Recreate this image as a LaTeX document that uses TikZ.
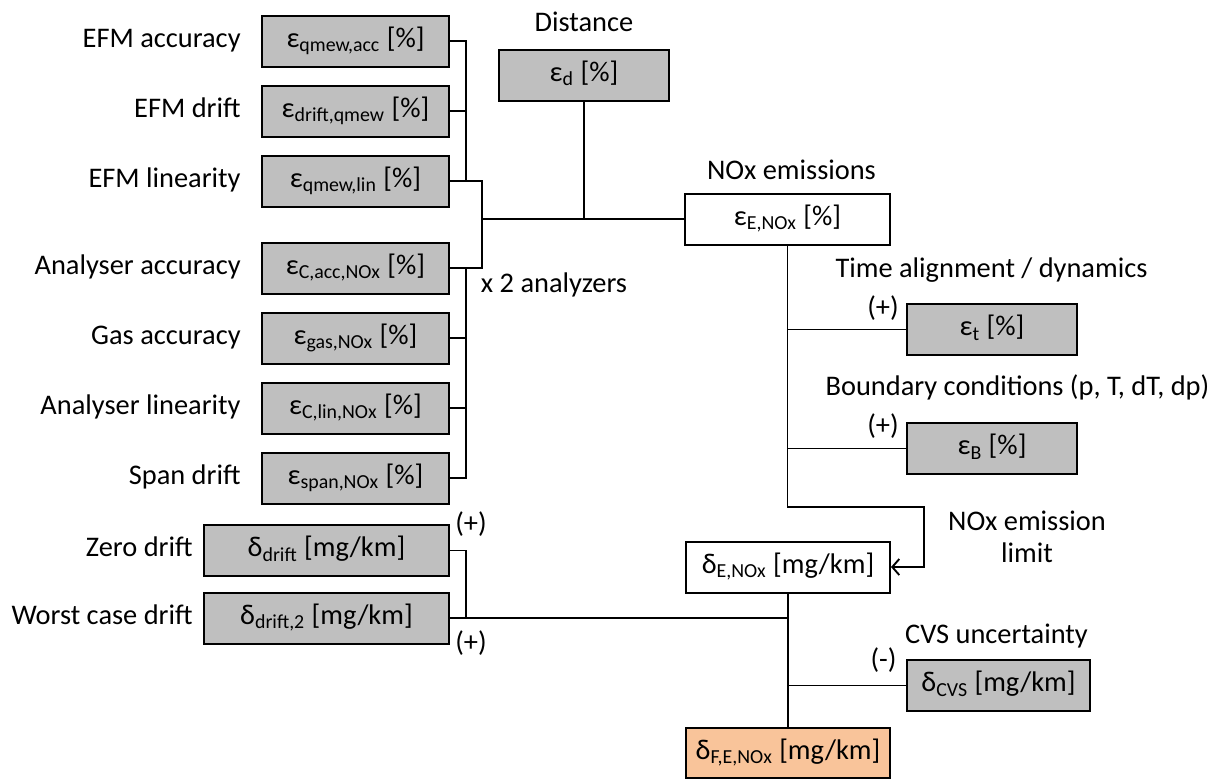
\documentclass[tikz,border=0pt]{standalone}
\usepackage{fontspec}
\setmainfont{Carlito}
\usetikzlibrary{positioning, arrows.meta}
\definecolor{boxgray}{HTML}{BFBFBF}
\definecolor{outorange}{HTML}{F9C49A}

\begin{document}
\begin{tikzpicture}[x=0.5pt, y=-0.5pt, node distance=8.5pt and 10pt,
    every node/.style={font=\fontsize{14.2}{17}\selectfont},
    gbox/.style={rectangle, draw, line width=1pt, fill=boxgray, minimum height=25.5pt, inner sep=0pt, text height=0.72em, text depth=0.08em},
    wbox/.style={gbox, fill=white},
    obox/.style={gbox, fill=outorange},
    epsbox/.style={gbox, minimum width=93.5pt},
    lbl/.style={inner sep=0pt, text height=0.72em, text depth=0.08em},
    line/.style={line width=0.95pt},
    arrow/.style={-{Straight Barb[length=3.5pt, width=8pt]}, line width=0.95pt}]

  \useasboundingbox (0,0) rectangle (1220,778);

  % flow meter and analyser terms
  \node[epsbox] (qacc) at (355.5,41) {ε\textsubscript{qmew,acc} [\%]};
  \node[epsbox, below=of qacc] (qdrift) {ε\textsubscript{drift,qmew} [\%]};
  \node[epsbox, below=of qdrift] (qlin) {ε\textsubscript{qmew,lin} [\%]};
  \node[epsbox, below=17pt of qlin] (cacc) {ε\textsubscript{C,acc,NOx} [\%]};
  \node[epsbox, below=of cacc] (gas) {ε\textsubscript{gas,NOx} [\%]};
  \node[epsbox, below=of gas] (clin) {ε\textsubscript{C,lin,NOx} [\%]};
  \node[epsbox, below=of clin] (span) {ε\textsubscript{span,NOx} [\%]};

  \node[lbl, left=of qacc] (lqacc) {EFM accuracy};
  \node[lbl, left=of qdrift] (lqdrift) {EFM drift};
  \node[lbl, left=of qlin] (lqlin) {EFM linearity};
  \node[lbl, left=of cacc] (lcacc) {Analyser accuracy};
  \node[lbl, left=of gas] (lgas) {Gas accuracy};
  \node[lbl, left=of clin] (lclin) {Analyser linearity};
  \node[lbl, left=of span] (lspan) {Span drift};
  \node[lbl] (twice) at (554,286.5) {x 2 analyzers};

  \node[gbox, minimum width=85pt] (dist) at (584,75) {ε\textsubscript{d} [\%]};
  \node[lbl, above=7.5pt of dist] (ldist) {Distance};

  % emissions and corrections
  \node[wbox, minimum width=102.5pt] (enox) at (787.5,219) {ε\textsubscript{E,NOx} [\%]};
  \node[lbl] (lenox) at (791.5,173.5) {NOx emissions};

  \node[gbox, minimum width=85pt] (et) at (992,329.5) {ε\textsubscript{t} [\%]};
  \node[lbl] (let) at (991.5,271) {Time alignment / dynamics};
  \node[lbl] (pet) at (883,310) {(+)};

  \node[gbox, minimum width=85pt] (eb) at (992,448.5) {ε\textsubscript{B} [\%]};
  \node[lbl] (leb) at (1017.5,389.5) {Boundary conditions (p, T, dT, dp)};
  \node[lbl] (peb) at (883,428) {(+)};

  \node[wbox, minimum width=102pt] (dnox) at (788,567) {δ\textsubscript{E,NOx} [mg/km]};
  \node[lbl] (llim) at (1027,524) {NOx emission};
  \node[lbl] (llimb) at (1027,556) {limit};

  \node[gbox, minimum width=122.5pt] (zd) at (326.5,550.5) {δ\textsubscript{drift} [mg/km]};
  \node[gbox, minimum width=122.5pt] (wd) at (326.5,618) {δ\textsubscript{drift,2} [mg/km]};
  \node[lbl, left=5pt of zd] (lzd) {Zero drift};
  \node[lbl, left=5pt of wd] (lwd) {Worst case drift};
  \node[lbl] (pzd) at (471,526) {(+)};
  \node[lbl] (pwd) at (471,645) {(+)};

  \node[gbox, minimum width=91.5pt] (cvs) at (998.5,685.5) {δ\textsubscript{CVS} [mg/km]};
  \node[lbl] (lcvs) at (996.5,637) {CVS uncertainty};
  \node[lbl] (pcvs) at (883.5,662) {(-)};

  \node[obox, minimum width=102pt, minimum height=25pt] (final) at (788,753) {δ\textsubscript{F,E,NOx} [mg/km]};

  \coordinate (busa) at (466,0);
  \coordinate (busb) at (482,0);
  \coordinate (lim) at (924,507);

  \draw[line] (qacc.east) -| (busa |- qlin.east) -- (qlin.east);
  \draw[line] (qdrift.east) -- (busa |- qdrift.east);
  \draw[line] (busa |- qlin.east) -| (busb |- cacc.east) -- (cacc.east);
  \draw[line] (cacc.east) -| (busa |- span.east) -- (span.east);
  \draw[line] (gas.east) -- (busa |- gas.east);
  \draw[line] (clin.east) -- (busa |- clin.east);
  \draw[line] (busb |- enox.west) -- (enox.west);
  \draw[line] (dist.south) -- (dist.south |- enox.west);

  \draw[arrow] (enox.south) |- (lim) |- (dnox.east);
  \draw[line] (enox.south |- et.west) -- (et.west);
  \draw[line] (enox.south |- eb.west) -- (eb.west);

  \draw[line] (zd.east) -| (busa |- wd.east) -- (wd.east);
  \draw[line] (wd.east) -- (dnox.south |- wd.east);
  \draw[line] (dnox.south) -- (final.north);
  \draw[line] (dnox.south |- cvs.west) -- (cvs.west);
\end{tikzpicture}
\end{document}
